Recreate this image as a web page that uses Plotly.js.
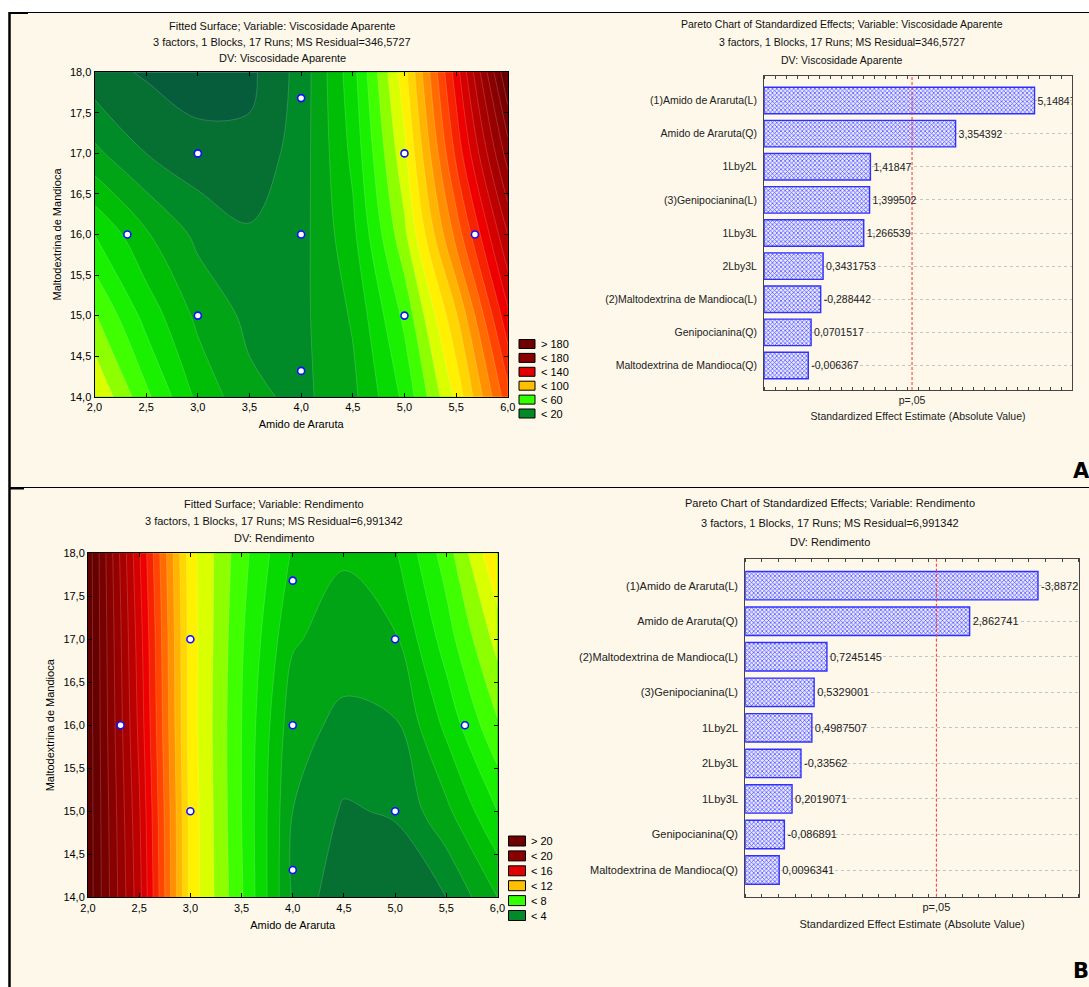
<!DOCTYPE html>
<html><head><meta charset="utf-8">
<script src="https://cdn.plot.ly/plotly-3.0.1.min.js"></script>
<style>html,body{margin:0;padding:0;background:#fff;}#chart{width:1089px;height:987px;}</style>
</head><body><div id="chart"></div>
<script>
// ---------------- data ----------------
const amidoGrid = [2.0, 2.5, 3.0, 3.5, 4.0, 4.5, 5.0, 5.5, 6.0];
const maltoGrid = [14, 15, 16, 17, 18];
// fitted surface: Viscosidade Aparente (rows = Maltodextrina 14..18, cols = Amido 2..6)
const viscSurface = [
  [80, 58, 38, 26, 22, 30, 50, 82, 125],
  [65, 45, 30, 22, 22, 33, 58, 95, 142],
  [48, 33, 22, 17, 21, 38, 70, 115, 160],
  [26, 16, 11, 10, 20, 42, 78, 130, 180],
  [11, 7, 4, 6, 19, 45, 85, 140, 200]
];
// fitted surface: Rendimento
const rendSurface = [
  [22.5, 17.5, 10.5, 7.7, 4.3, 2.9, 2.9, 3.6, 5.2],
  [22.5, 17.3, 10.5, 7.6, 4.4, 3.5, 3.7, 5.0, 6.8],
  [22.5, 17.0, 10.4, 7.6, 4.7, 4.2, 4.3, 6.2, 8.3],
  [22.5, 16.8, 10.4, 7.7, 5.3, 4.8, 5.1, 7.2, 9.5],
  [22.5, 16.5, 10.3, 7.9, 5.9, 5.3, 5.9, 8.0, 10.8]
];
// design points (CCRD)
const designAmido = [2.318, 3, 3, 4, 4, 4, 5, 5, 5.682];
const designMalto = [16, 15, 17, 14.318, 16, 17.682, 15, 17, 16];

// Pareto A
const effectsA = ['(1)Amido de Araruta(L)', 'Amido de Araruta(Q)', '1Lby2L', '(3)Genipocianina(L)', '1Lby3L', '2Lby3L', '(2)Maltodextrina de Mandioca(L)', 'Genipocianina(Q)', 'Maltodextrina de Mandioca(Q)'];
const tA = [5.14847, 3.354392, 1.41847, 1.399502, 1.266539, 0.3431753, -0.288442, 0.0701517, -0.006367];
const labelsA = ['5,14847', '3,354392', '1,41847', '1,399502', '1,266539', '0,3431753', '-0,288442', '0,0701517', '-0,006367'];
// Pareto B
const effectsB = ['(1)Amido de Araruta(L)', 'Amido de Araruta(Q)', '(2)Maltodextrina de Mandioca(L)', '(3)Genipocianina(L)', '1Lby2L', '2Lby3L', '1Lby3L', 'Genipocianina(Q)', 'Maltodextrina de Mandioca(Q)'];
const tB = [-3.8872, 2.862741, 0.7245145, 0.5329001, 0.4987507, -0.33562, 0.2019071, -0.086891, 0.0096341];
const labelsB = ['-3,8872', '2,862741', '0,7245145', '0,5329001', '0,4987507', '-0,33562', '0,2019071', '-0,086891', '0,0096341'];
const pCrit = 2.364624; // t(0.975; 7 df)

const levelsA = ['> 180', '< 180', '< 140', '< 100', '< 60', '< 20'];
const levelsB = ['> 20', '< 20', '< 16', '< 12', '< 8', '< 4'];
const levelColors = ['#6e0000', '#880000', '#e00000', '#ffc000', '#33ff00', '#008a28'];

const titlesA1 = ['Fitted Surface; Variable: Viscosidade Aparente', '3 factors, 1 Blocks, 17 Runs; MS Residual=346,5727', 'DV: Viscosidade Aparente'];
const titlesA2 = ['Pareto Chart of Standardized Effects; Variable: Viscosidade Aparente', '3 factors, 1 Blocks, 17 Runs; MS Residual=346,5727', 'DV: Viscosidade Aparente'];
const titlesB1 = ['Fitted Surface; Variable: Rendimento', '3 factors, 1 Blocks, 17 Runs; MS Residual=6,991342', 'DV: Rendimento'];
const titlesB2 = ['Pareto Chart of Standardized Effects; Variable: Rendimento', '3 factors, 1 Blocks, 17 Runs; MS Residual=6,991342', 'DV: Rendimento'];

// ---------------- helpers ----------------
const W = 1089, H = 987;
const FONT = 'Liberation Sans, Arial, sans-serif';
const px = v => v / W;
const py = v => 1 - v / H;

const surfScale = [
  [0, '#05553e'], [0.05, '#086a36'], [0.1, '#008a28'], [0.15, '#00aa10'], [0.2, '#00cc00'],
  [0.25, '#10ee00'], [0.3, '#40ff00'], [0.35, '#a0ff00'], [0.4, '#ffff00'], [0.475, '#ffcc00'],
  [0.55, '#ff8800'], [0.625, '#ff4000'], [0.7, '#ee0000'], [0.8, '#b00000'], [0.9, '#880000'], [1, '#600000']
];

function contourTrace(z, xa, ya, zmin, zmax, step) {
  return {
    type: 'contour', x: amidoGrid, y: maltoGrid, z: z, xaxis: xa, yaxis: ya,
    colorscale: surfScale, zmin: zmin, zmax: zmax, autocontour: false,
    contours: {start: zmin, end: zmax, size: step, coloring: 'fill', showlines: true},
    line: {color: 'rgba(255,255,255,0.28)', width: 0.6, smoothing: 1},
    showscale: false, hoverinfo: 'skip'
  };
}
function pointsTrace(xa, ya) {
  return {
    type: 'scatter', mode: 'markers', x: designAmido, y: designMalto, xaxis: xa, yaxis: ya,
    marker: {size: 7, color: '#ffffff', line: {color: '#1010ff', width: 1.6}},
    showlegend: false, hoverinfo: 'skip'
  };
}
function paretoTrace(cats, t, labels, base, xa, ya, fs) {
  return {
    type: 'bar', orientation: 'h', y: cats, x: t.map(v => Math.abs(v) - base), base: base,
    xaxis: xa, yaxis: ya, text: labels, textposition: 'outside', cliponaxis: true,
    constraintext: 'none', textfont: {family: FONT, size: fs, color: '#222'},
    marker: {color: '#ffffff', line: {color: '#3030ff', width: 1.4},
      pattern: {shape: 'x', fgcolor: '#4848ff', bgcolor: '#e8e8ff', size: 3, solidity: 0.4}},
    width: 0.8, showlegend: false, hoverinfo: 'skip'
  };
}

const baseA = -1, baseB = -0.5;
const data = [
  contourTrace(viscSurface, 'x', 'y', 0, 200, 8),
  pointsTrace('x', 'y'),
  paretoTrace(effectsA, tA, labelsA, baseA, 'x2', 'y2', 10.5),
  contourTrace(rendSurface, 'x3', 'y3', 2, 22, 0.8),
  pointsTrace('x3', 'y3'),
  paretoTrace(effectsB, tB, labelsB, baseB, 'x4', 'y4', 11)
];

function surfX(d0, d1, anchor) {
  return {domain: [px(d0), px(d1)], anchor: anchor, range: [2, 6], dtick: 0.5, tick0: 2, tickformat: '.1f',
    ticks: 'inside', ticklen: 4, tickcolor: '#000', mirror: 'allticks', showline: true, linecolor: '#000', linewidth: 1,
    showgrid: false, zeroline: false, tickfont: {family: FONT, size: 11, color: '#000'},
    title: {text: 'Amido de Araruta', font: {family: FONT, size: 11, color: '#000'}, standoff: 8}};
}
function surfY(d0, d1, anchor) {
  return {domain: [py(d1), py(d0)], anchor: anchor, range: [14, 18], dtick: 0.5, tick0: 14, tickformat: '.1f',
    ticks: 'inside', ticklen: 4, tickcolor: '#000', mirror: 'allticks', showline: true, linecolor: '#000', linewidth: 1,
    showgrid: false, zeroline: false, tickfont: {family: FONT, size: 11, color: '#000'},
    title: {text: 'Maltodextrina de Mandioca', font: {family: FONT, size: 11, color: '#000'}, standoff: 6}};
}
function parX(d0, d1, anchor, r, fs) {
  return {domain: [px(d0), px(d1)], anchor: anchor, range: r, tickmode: 'array', tickvals: [pCrit], ticktext: ['p=,05'],
    ticks: '', showline: true, linecolor: '#444', linewidth: 1, mirror: 'allticks', showgrid: false, zeroline: false,
    minor: {ticks: 'inside', tickmode: 'linear', tick0: 0, dtick: 0.25, ticklen: 3, tickcolor: '#444', showgrid: false},
    tickfont: {family: FONT, size: fs, color: '#222'},
    title: {text: 'Standardized Effect Estimate (Absolute Value)', font: {family: FONT, size: fs, color: '#222'}, standoff: 8}};
}
function parY(d0, d1, anchor, r, fs) {
  return {domain: [py(d1), py(d0)], anchor: anchor, type: 'category', range: r, ticks: '',
    showline: true, linecolor: '#444', linewidth: 1, mirror: true, showgrid: true, gridcolor: '#c4c4c4',
    griddash: 'dot', gridwidth: 1, zeroline: false, ticklabelstandoff: 4,
    tickfont: {family: FONT, size: fs, color: '#222'}};
}

const annotations = [];
function addTitle(lines, cx, ys, fs) {
  lines.forEach((t, i) => annotations.push({xref: 'paper', yref: 'paper', x: px(cx), y: py(ys[i]), text: t,
    showarrow: false, xanchor: 'center', yanchor: 'middle', font: {family: FONT, size: fs, color: '#111'}}));
}
addTitle(titlesA1, 282, [25.7, 42, 58], 11);
addTitle(titlesA2, 842, [24.3, 42.3, 60.3], 10.5);
addTitle(titlesB1, 274, [503.7, 520.7, 537.7], 11);
addTitle(titlesB2, 830, [503.3, 522.5, 541.5], 11);

const shapes = [
  {type: 'rect', xref: 'paper', yref: 'paper', x0: px(9), x1: 1, y0: 0, y1: py(12), fillcolor: '#fdf8ea', line: {width: 0}, layer: 'below'},
  {type: 'line', xref: 'paper', yref: 'paper', x0: px(9), x1: 1, y0: py(12.5), y1: py(12.5), line: {color: '#000', width: 1}},
  {type: 'line', xref: 'paper', yref: 'paper', x0: px(9), x1: px(28), y0: py(13), y1: py(13), line: {color: '#000', width: 2}},
  {type: 'line', xref: 'paper', yref: 'paper', x0: px(9), x1: 1, y0: py(487.5), y1: py(487.5), line: {color: '#000', width: 1}},
  {type: 'line', xref: 'paper', yref: 'paper', x0: px(9), x1: px(24), y0: py(488.5), y1: py(488.5), line: {color: '#000', width: 2}},
  {type: 'line', xref: 'paper', yref: 'paper', x0: px(9.5), x1: px(9.5), y0: py(12), y1: 0, line: {color: '#000', width: 2.5}},
  {type: 'line', xref: 'x2', yref: 'y2 domain', x0: pCrit, x1: pCrit, y0: 0, y1: 1, line: {color: '#ff3030', width: 1, dash: '3px,2px'}},
  {type: 'line', xref: 'x4', yref: 'y4 domain', x0: pCrit, x1: pCrit, y0: 0, y1: 1, line: {color: '#ff3030', width: 1, dash: '3px,2px'}}
];
function addLegend(labels, bx, by, step, sw, sh, tx) {
  labels.forEach((t, i) => {
    const cy = by + i * step;
    shapes.push({type: 'rect', xref: 'paper', yref: 'paper', x0: px(bx), x1: px(bx + sw), y0: py(cy + sh / 2), y1: py(cy - sh / 2),
      fillcolor: levelColors[i], line: {color: '#000', width: 1}});
    annotations.push({xref: 'paper', yref: 'paper', x: px(tx), y: py(cy), text: t, showarrow: false,
      xanchor: 'left', yanchor: 'middle', font: {family: FONT, size: 11, color: '#000'}});
  });
}
addLegend(levelsA, 519, 344, 13.9, 16, 9, 539);
addLegend(levelsB, 508.5, 841, 14.9, 17, 10, 529);
annotations.push({xref: 'paper', yref: 'paper', x: px(1081), y: py(471), text: '<b>A</b>', showarrow: false,
  xanchor: 'center', yanchor: 'middle', font: {family: 'DejaVu Sans, sans-serif', size: 21, color: '#000'}});
annotations.push({xref: 'paper', yref: 'paper', x: px(1081), y: py(971), text: '<b>B</b>', showarrow: false,
  xanchor: 'center', yanchor: 'middle', font: {family: 'DejaVu Sans, sans-serif', size: 21, color: '#000'}});

const layout = {
  width: W, height: H, margin: {l: 0, r: 0, t: 0, b: 0}, autosize: false,
  paper_bgcolor: '#ffffff', plot_bgcolor: '#ffffff', separators: ',.', showlegend: false,
  font: {family: FONT, size: 11, color: '#000'}, bargap: 0.2,
  xaxis: surfX(94.5, 507.8, 'y'), yaxis: surfY(72.3, 396.7, 'x'),
  xaxis2: parX(764, 1072, 'y2', [-1, 6], 10.5), yaxis2: parY(76, 390, 'x2', [8.74, -0.74], 10.5),
  xaxis3: surfX(88, 497.5, 'y3'), yaxis3: surfY(553.3, 897.3, 'x3'),
  xaxis4: parX(745.2, 1078.9, 'y4', [-0.5, 4.5], 11), yaxis4: parY(559, 896.7, 'x4', [8.75, -0.75], 11),
  shapes: shapes, annotations: annotations
};
Plotly.newPlot('chart', data, layout, {staticPlot: true, displayModeBar: false});
</script></body></html>
